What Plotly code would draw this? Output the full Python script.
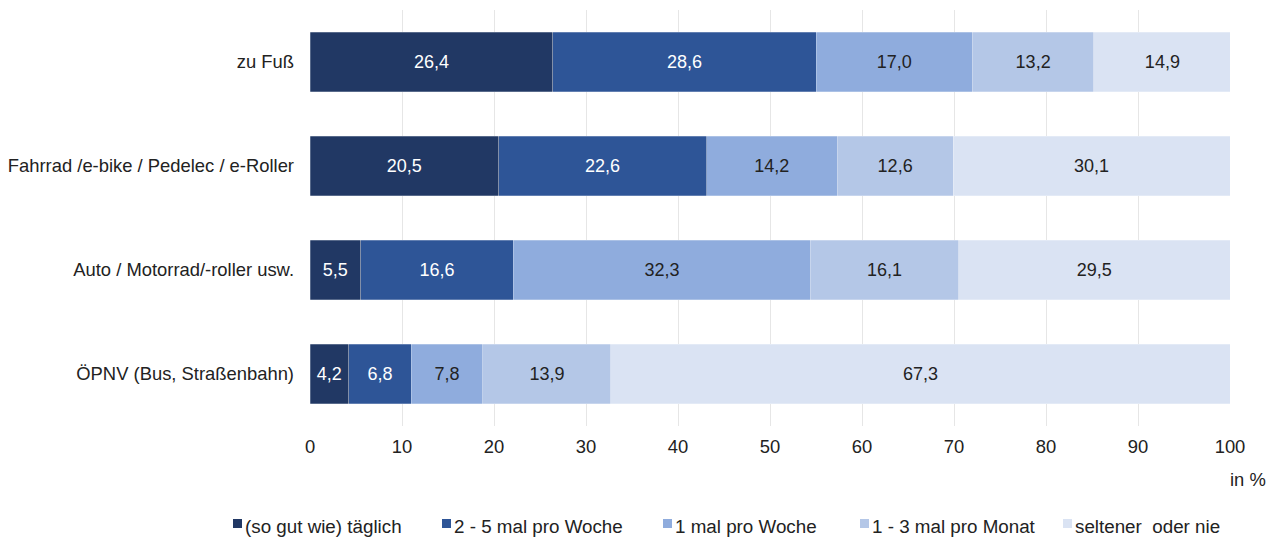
import plotly.graph_objects as go

categories = ["zu Fuß", "Fahrrad /e-bike / Pedelec / e-Roller", "Auto / Motorrad/-roller usw.", "ÖPNV (Bus, Straßenbahn)"]
series_names = ["(so gut wie) täglich", "2 - 5 mal pro Woche", "1 mal pro Woche", "1 - 3 mal pro Monat", "seltener  oder nie"]
values = [
    [26.4, 20.5, 5.5, 4.2],
    [28.6, 22.6, 16.6, 6.8],
    [17.0, 14.2, 32.3, 7.8],
    [13.2, 12.6, 16.1, 13.9],
    [14.9, 30.1, 29.5, 67.3],
]
colors = ["#213864", "#2E5597", "#8FACDD", "#B4C7E7", "#DAE3F3"]
text_colors = ["white", "white", "#222222", "#222222", "#222222"]
xticks = [0, 10, 20, 30, 40, 50, 60, 70, 80, 90, 100]

FONT = "Liberation Sans, Arial, Helvetica"

fig = go.Figure()
for name, vals, col, tc in zip(series_names, values, colors, text_colors):
    fig.add_trace(go.Bar(
        y=categories, x=vals, name=name, orientation="h",
        marker=dict(color=col, line=dict(color="rgba(255,255,255,0.5)", width=0.5)),
        texttemplate="%{x:.1f}", textposition="inside", insidetextanchor="middle",
        textfont=dict(color=tc, size=18, family=FONT),
        hoverinfo="skip", showlegend=False,
    ))

# Plot area in page pixels: x 310..1230, y 10..426 (page has 8px body margin)
PX0, PX1, PY0, PY1 = 310, 1230, 10, 426
def px(x):
    return (x - PX0) / (PX1 - PX0)
def py(y):
    return (PY1 - y) / (PY1 - PY0)

legend_left = [233, 442, 663, 860, 1063]
shapes = []
annotations = []
for name, col, lx in zip(series_names, colors, legend_left):
    shapes.append(dict(type="rect", xref="paper", yref="paper",
                       x0=px(lx), x1=px(lx + 9), y0=py(528), y1=py(519),
                       fillcolor=col, line=dict(width=0)))
    annotations.append(dict(text=name.replace("  ", "\u00a0 "), x=px(lx + 10), y=py(526),
                            xref="paper", yref="paper",
                            xanchor="left", yanchor="middle", showarrow=False,
                            font=dict(size=18.8, family=FONT, color="#222222")))
annotations.append(dict(text="in %", x=px(1228), xref="paper", y=py(479), yref="paper",
                        xanchor="left", yanchor="middle", showarrow=False,
                        font=dict(size=18.4, family=FONT, color="#222222")))

fig.update_layout(
    barmode="stack", bargap=0.43, separators=",.",
    width=1275, height=537,
    margin=dict(l=302, r=53, t=2, b=119, autoexpand=False),
    plot_bgcolor="white", paper_bgcolor="white",
    font=dict(family=FONT, size=18, color="#222222"),
    xaxis=dict(range=[0, 100], tickvals=xticks, showgrid=True, gridcolor="#E6E6E6",
               gridwidth=1, zeroline=False, showline=False, tickfont=dict(size=18.4),
               ticks="", ticklabelstandoff=8, automargin=False),
    yaxis=dict(autorange="reversed", showgrid=False, zeroline=False, showline=False,
               ticks="", ticklabelstandoff=15, tickfont=dict(size=18.4), automargin=False),
    showlegend=False,
    shapes=shapes,
    annotations=annotations,
)
fig.write_html("out.html")
